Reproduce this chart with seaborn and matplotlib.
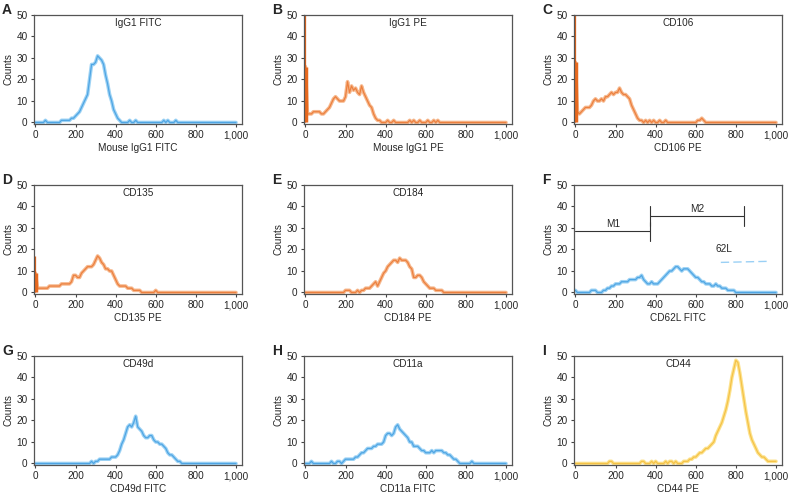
import numpy as np
import pandas as pd
import seaborn as sns
import matplotlib.pyplot as plt

sns.set_style("ticks")
plt.rcParams['font.family'] = ['Liberation Sans', 'DejaVu Sans']
plt.rcParams['font.size'] = 7.2

# fluorescence channel grid (0 .. 1000, every 10 units)
channel = list(range(0, 1001, 10))

# counts per channel
igg1_fitc = [0, 0, 0, 0, 0, 1, 0, 0, 0, 0, 0, 0, 0, 1, 1, 1, 1, 1, 2, 2,
             3, 4, 5, 7, 9, 11, 13, 20, 27, 27, 28, 31, 30, 29, 27, 22, 18, 13, 10, 6,
             4, 2, 1, 0, 0, 0, 0, 1, 0, 0, 1, 0, 0, 0, 0, 0, 0, 0, 0, 0,
             0, 0, 0, 0, 1, 0, 1, 0, 0, 0, 1, 0, 0, 0, 0, 0, 0, 0, 0, 0,
             0, 0, 0, 0, 0, 0, 0, 0, 0, 0, 0, 0, 0, 0, 0, 0, 0, 0, 0, 0, 0]
igg1_pe = [26, 4, 4, 4, 5, 5, 5, 5, 4, 4, 5, 6, 7, 9, 11, 12, 11, 10, 10, 10,
           12, 19, 14, 17, 15, 16, 14, 13, 17, 14, 12, 10, 8, 7, 4, 2, 1, 1, 0, 0,
           0, 1, 0, 0, 1, 0, 0, 0, 0, 0, 0, 0, 1, 0, 1, 0, 0, 1, 0, 0,
           0, 1, 0, 0, 1, 0, 1, 0, 0, 0, 0, 0, 0, 0, 0, 0, 0, 0, 0, 0,
           0, 0, 0, 0, 0, 0, 0, 0, 0, 0, 0, 0, 0, 0, 0, 0, 0, 0, 0, 0, 0]
cd106_pe = [28, 5, 4, 5, 6, 7, 7, 7, 8, 10, 11, 10, 10, 11, 10, 12, 12, 13, 14, 13,
            14, 14, 16, 14, 13, 13, 12, 11, 8, 6, 4, 2, 1, 1, 0, 1, 0, 1, 0, 1,
            0, 0, 1, 0, 0, 1, 0, 0, 0, 0, 0, 0, 0, 0, 0, 0, 0, 0, 0, 0,
            0, 1, 1, 2, 1, 0, 0, 0, 0, 0, 0, 0, 0, 0, 0, 0, 0, 0, 0, 0,
            0, 0, 0, 0, 0, 0, 0, 0, 0, 0, 0, 0, 0, 0, 0, 0, 0, 0, 0, 0, 0]
cd135_pe = [9, 2, 2, 2, 2, 2, 2, 3, 3, 3, 3, 3, 3, 4, 4, 4, 4, 4, 5, 8,
            8, 7, 7, 9, 10, 11, 12, 12, 12, 13, 15, 17, 16, 14, 13, 11, 11, 10, 10, 8,
            6, 4, 3, 3, 3, 3, 2, 2, 2, 1, 1, 1, 1, 0, 0, 0, 0, 0, 0, 0,
            1, 0, 0, 0, 0, 0, 0, 0, 0, 0, 0, 0, 0, 0, 0, 0, 0, 0, 0, 0,
            0, 0, 0, 0, 0, 0, 0, 0, 0, 0, 0, 0, 0, 0, 0, 0, 0, 0, 0, 0, 0]
cd184_pe = [0, 0, 0, 0, 0, 0, 0, 0, 0, 0, 0, 0, 0, 0, 0, 0, 0, 0, 0, 0,
            1, 1, 1, 0, 0, 0, 1, 0, 1, 1, 2, 2, 2, 3, 4, 5, 3, 5, 7, 9,
            10, 12, 13, 14, 15, 15, 14, 16, 15, 15, 15, 14, 12, 11, 7, 7, 8, 8, 7, 5,
            4, 3, 2, 2, 2, 1, 1, 1, 1, 0, 0, 0, 0, 0, 0, 0, 0, 0, 0, 0,
            0, 0, 0, 0, 0, 0, 0, 0, 0, 0, 0, 0, 0, 0, 0, 0, 0, 0, 0, 0, 0]
cd62l_fitc = [1, 0, 0, 0, 0, 0, 0, 0, 1, 1, 1, 0, 0, 0, 1, 1, 2, 2, 3, 3,
              4, 4, 4, 5, 5, 5, 5, 6, 6, 6, 6, 7, 7, 8, 6, 5, 4, 4, 5, 4,
              4, 4, 5, 6, 7, 8, 9, 10, 10, 11, 12, 12, 11, 10, 11, 11, 11, 10, 9, 8,
              7, 7, 6, 5, 5, 4, 4, 4, 3, 3, 4, 3, 3, 2, 2, 2, 1, 1, 1, 1,
              0, 0, 0, 0, 0, 0, 0, 0, 0, 0, 0, 0, 0, 0, 0, 0, 0, 0, 0, 0, 0]
cd49d_fitc = [0, 0, 0, 0, 0, 0, 0, 0, 0, 0, 0, 0, 0, 0, 0, 0, 0, 0, 0, 0,
              0, 0, 0, 0, 0, 0, 0, 0, 1, 0, 1, 1, 2, 2, 2, 2, 2, 2, 3, 3,
              3, 4, 6, 9, 11, 14, 17, 18, 17, 19, 22, 17, 16, 15, 13, 12, 12, 13, 13, 11,
              10, 10, 9, 9, 8, 7, 5, 4, 4, 3, 2, 1, 1, 0, 0, 0, 0, 0, 0, 0,
              0, 0, 0, 0, 0, 0, 0, 0, 0, 0, 0, 0, 0, 0, 0, 0, 0, 0, 0, 0, 0]
cd11a_fitc = [0, 0, 0, 1, 0, 0, 0, 0, 0, 0, 0, 0, 0, 1, 0, 0, 1, 1, 0, 1,
              2, 2, 2, 2, 2, 3, 3, 4, 5, 5, 6, 7, 7, 7, 8, 8, 9, 9, 9, 10,
              13, 14, 14, 13, 14, 17, 18, 16, 15, 14, 13, 12, 10, 10, 8, 8, 8, 7, 6, 6,
              5, 5, 5, 6, 5, 6, 6, 6, 6, 5, 5, 4, 4, 3, 2, 2, 1, 0, 0, 0,
              0, 0, 0, 1, 0, 0, 0, 0, 0, 0, 0, 0, 0, 0, 0, 0, 0, 0, 0, 0, 0]
cd44_pe = [0, 0, 0, 0, 0, 0, 0, 0, 0, 0, 0, 0, 0, 0, 0, 0, 0, 1, 1, 0,
           0, 0, 0, 0, 0, 0, 0, 0, 0, 0, 0, 0, 0, 1, 1, 0, 0, 0, 1, 0,
           1, 0, 0, 0, 0, 1, 0, 1, 1, 0, 1, 0, 0, 0, 1, 1, 1, 2, 2, 3,
           3, 4, 5, 5, 6, 7, 7, 8, 9, 10, 13, 15, 17, 19, 22, 25, 29, 34, 40, 44,
           48, 47, 42, 36, 30, 24, 19, 14, 11, 9, 7, 5, 4, 3, 3, 2, 1, 1, 1, 1, 1]

panel_letters = ["A", "B", "C", "D", "E", "F", "G", "H", "I"]
panel_titles = ["IgG1 FITC", "IgG1 PE", "CD106", "CD135", "CD184", "", "CD49d", "CD11a", "CD44"]
x_labels = ["Mouse IgG1 FITC", "Mouse IgG1 PE", "CD106 PE", "CD135 PE", "CD184 PE",
            "CD62L FITC", "CD49d FITC", "CD11a FITC", "CD44 PE"]
series = [igg1_fitc, igg1_pe, cd106_pe, cd135_pe, cd184_pe,
          cd62l_fitc, cd49d_fitc, cd11a_fitc, cd44_pe]
dye = ["FITC", "PE", "PE", "PE", "PE", "FITC", "FITC", "FITC", "CD44"]

# events piled up in the first channel of the PE panels (thin peak, thick peak)
spike_tall = {1: 50, 2: 50, 3: 17}
spike_thick = {1: 26, 2: 28, 3: 9}

# marker gates in panel F
gate_names = ["M1", "M2"]
gate_start = [0, 373]
gate_end = [373, 843]
gate_level = [28.5, 35.5]
# leftover legend entry in panel F
legend_text = "62L"
legend_x = [725, 965]
legend_y = [14, 14.5]

colors = {
    "FITC": ("#8CCBF3", "#2F93DD"),
    "PE": ("#F5AC7A", "#E8691E"),
    "CD44": ("#FCDD7A", "#F2B52A"),
}

fig = plt.figure(figsize=(7.88, 4.93), dpi=100)
col_left = [34, 304, 574]
row_top = [15, 185, 356]
ax_w, ax_h = 208, 109
W, H = 788, 493

for i in range(9):
    r, c = divmod(i, 3)
    left = col_left[c] / W
    bottom = 1 - (row_top[r] + ax_h) / H
    ax = fig.add_axes([left, bottom, ax_w / W, ax_h / H])
    light, dark = colors[dye[i]]
    df = pd.DataFrame({"channel": channel, "counts": series[i]})
    sns.lineplot(data=df, x="channel", y="counts", ax=ax, color=light,
                 linewidth=2.6, alpha=0.85, estimator=None)
    sns.lineplot(data=df, x="channel", y="counts", ax=ax, color=dark,
                 linewidth=0.9, alpha=0.7, estimator=None)
    if i in spike_tall:
        ax.vlines(0, 0, spike_tall[i], color="#D9601A", linewidth=0.9)
        ax.vlines(2, 0, spike_thick[i], color="#E8691E", linewidth=2.5)

    if i == 5:
        for name, s, e, y in zip(gate_names, gate_start, gate_end, gate_level):
            ax.plot([s, e], [y, y], color="#333333", linewidth=0.8)
            for xe in (s, e):
                if xe > 0:
                    ax.plot([xe, xe], [y - 4.5, y + 4.5], color="#333333", linewidth=0.8)
            ax.text((s + e) / 2, y + 3.5, name, ha="center", va="center", fontsize=7.2)
        ax.text(legend_x[0] + 15, 20, legend_text, ha="center", va="center", fontsize=7.2)
        ax.plot(legend_x, legend_y, color="#9AD0F5", linewidth=1, linestyle=(0, (6, 3)))

    ax.set_xlim(-7, 1030)
    ax.set_ylim(-0.7, 50)
    ax.set_xticks([0, 200, 400, 600, 800, 1000])
    ax.set_xticklabels(["0", "200", "400", "600", "800", "1,000"])
    ax.set_yticks([0, 10, 20, 30, 40, 50])
    ax.tick_params(length=2.5, width=0.8, pad=2, labelsize=7.2, color="#444444")
    for sp in ax.spines.values():
        sp.set_color("#555555")
        sp.set_linewidth(0.9)
    ax.set_xlabel(x_labels[i], fontsize=7.2, labelpad=2)
    ax.set_ylabel("Counts", fontsize=7.2)
    ax.yaxis.set_label_coords(-0.1, 0.5)
    if panel_titles[i]:
        ax.text(0.5, 0.925, panel_titles[i], transform=ax.transAxes,
                ha="center", va="center", fontsize=7.2)
    fig.text((col_left[c] - 32) / W, 1 - (row_top[r] - 12) / H, panel_letters[i],
             fontsize=10, fontweight="bold", ha="left", va="top")

fig.savefig("out.png", dpi=100)
